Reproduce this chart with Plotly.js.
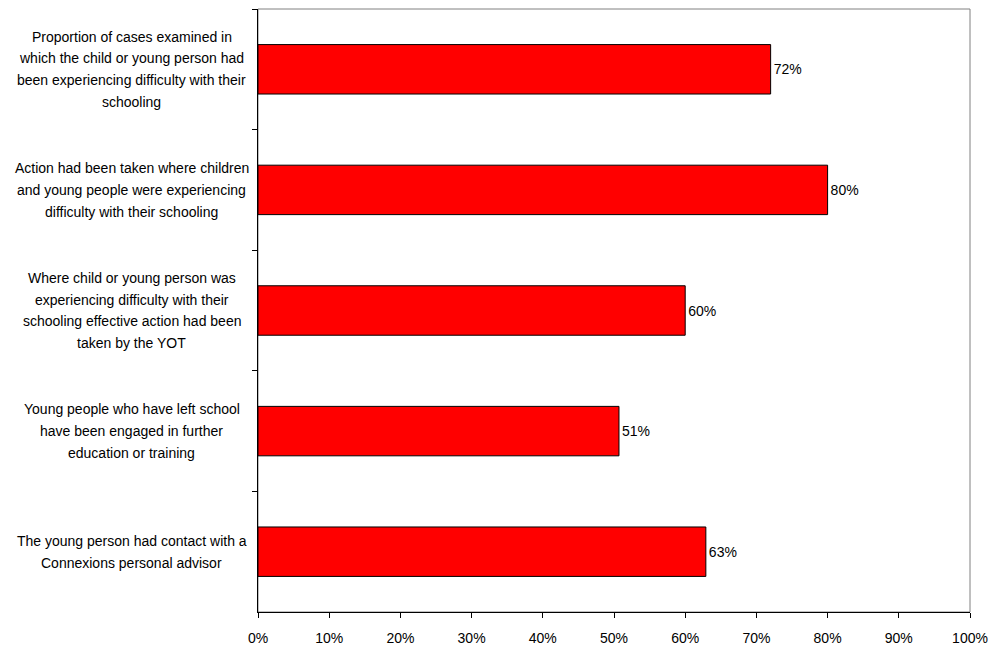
<!DOCTYPE html>
<html>
<head>
<meta charset="utf-8">
<script src="https://cdn.plot.ly/plotly-3.0.1.min.js"></script>
<style>html,body{margin:0;padding:0;background:#fff;}</style>
</head>
<body>
<div id="chart" style="width:990px;height:648px;"></div>
<script>
const categoryLines = [
  ["Proportion of cases examined in", "which the child or young person had", "been experiencing difficulty with their", "schooling"],
  ["Action had been taken where children", "and young people were experiencing", "difficulty with their schooling"],
  ["Where child or young person was", "experiencing difficulty with their", "schooling effective action had been", "taken by the YOT"],
  ["Young people who have left school", "have been engaged in further", "education or training"],
  ["The young person had contact with a", "Connexions personal advisor"]
];
const categories = ["cat1", "cat2", "cat3", "cat4", "cat5"];
const values = [0.72, 0.80, 0.60, 0.507, 0.629];
const valueLabels = ["72%", "80%", "60%", "51%", "63%"];
const xTickVals = [0, 0.1, 0.2, 0.3, 0.4, 0.5, 0.6, 0.7, 0.8, 0.9, 1.0];
const xTickText = ["0%", "10%", "20%", "30%", "40%", "50%", "60%", "70%", "80%", "90%", "100%"];

const FONT = "Liberation Sans, Arial, sans-serif";
const linePitch = 21.7;

const annotations = [];
categoryLines.forEach((lines, ci) => {
  const n = lines.length;
  lines.forEach((txt, li) => {
    annotations.push({
      xref: "paper", yref: "y",
      x: 0, y: categories[ci],
      xanchor: "center", yanchor: "middle",
      xshift: -126.5,
      yshift: -((li - (n - 1) / 2) * linePitch),
      text: txt, showarrow: false,
      font: {family: FONT, size: 14, color: "#000"}
    });
  });
});

const trace = {
  type: "bar",
  orientation: "h",
  y: categories,
  x: values,
  text: valueLabels,
  textposition: "outside",
  textfont: {family: FONT, size: 14, color: "#000"},
  cliponaxis: false,
  width: 0.41,
  marker: {color: "#FF0000", line: {color: "#000", width: 1}},
  hoverinfo: "none"
};

const layout = {
  width: 990, height: 648,
  margin: {l: 258, r: 20, t: 9, b: 36, pad: 0},
  paper_bgcolor: "#fff", plot_bgcolor: "#fff",
  showlegend: false,
  font: {family: FONT, size: 14, color: "#000"},
  xaxis: {
    range: [0, 1],
    tickvals: xTickVals, ticktext: xTickText,
    ticks: "outside", ticklen: 5, tickcolor: "#000", tickwidth: 1,
    ticklabelstandoff: 8,
    showline: true, linecolor: "#000", linewidth: 1,
    showgrid: false, zeroline: false,
    tickfont: {family: FONT, size: 14, color: "#000"},
    fixedrange: true
  },
  yaxis: {
    type: "category",
    categoryorder: "array", categoryarray: categories,
    autorange: "reversed",
    range: [4.5, -0.5],
    tickson: "boundaries",
    ticks: "outside", ticklen: 5, tickcolor: "#000", tickwidth: 1,
    showticklabels: false,
    showline: true, linecolor: "#000", linewidth: 1,
    showgrid: false, zeroline: false,
    fixedrange: true
  },
  shapes: [{
    type: "rect", xref: "paper", yref: "paper",
    x0: 0, x1: 1, y0: 0, y1: 1,
    line: {color: "#808080", width: 1}, layer: "below"
  }],
  annotations: annotations
};

Plotly.newPlot("chart", [trace], layout, {displayModeBar: false, staticPlot: true});
</script>
</body>
</html>
